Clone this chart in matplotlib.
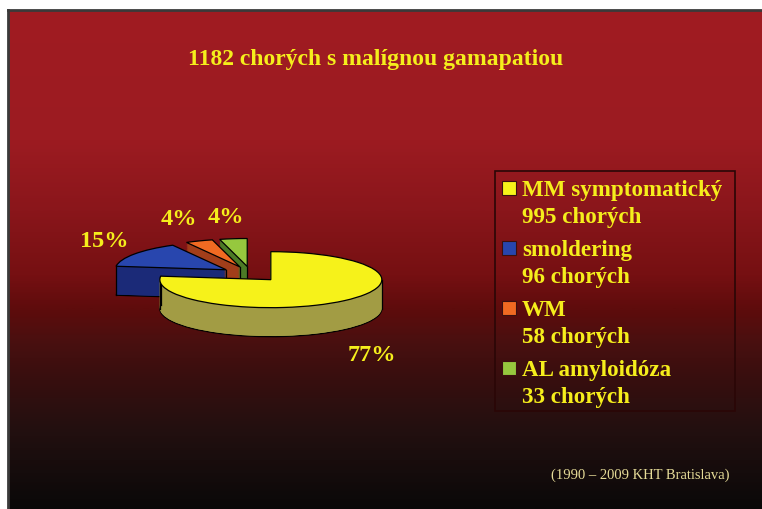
import numpy as np
import matplotlib
matplotlib.use("Agg")
import matplotlib.pyplot as plt
from matplotlib.patches import Rectangle
from matplotlib.colors import LinearSegmentedColormap

# ---------------- data ----------------
title = "1182 chorých s malígnou gamapatiou"
categories = ["MM symptomatický", "smoldering", "WM", "AL amyloidóza"]
patients = [995, 96, 58, 33]
percent = [77, 15, 4, 4]
pct_labels = ["77%", "15%", "4%", "4%"]
footnote = "(1990 – 2009 KHT Bratislava)"

top_colors = ["#F6F21A", "#2846AE", "#F06A22", "#96C83E"]
side_colors = ["#A29C44", "#1B2A78", "#A23E1A", "#4C7A26"]

W, H = 762, 510
fig = plt.figure(figsize=(W / 100, H / 100), dpi=100, facecolor="white")

# ---------------- background ----------------
bg = fig.add_axes([0, 0, 1, 1])
bg.set_xlim(0, W)
bg.set_ylim(H, 0)
bg.axis("off")
stops = [(0.0, "#A01C22"), (0.26, "#9C1B21"), (0.40, "#8A161B"), (0.53, "#761012"),
         (0.60, "#5E0C0C"), (0.67, "#481010"), (0.73, "#3A0E0E"), (0.83, "#251010"),
         (0.93, "#150C0C"), (1.0, "#0A0808")]
cmap = LinearSegmentedColormap.from_list("bg", stops)
grad = np.linspace(0, 1, 600).reshape(-1, 1)
bg.imshow(grad, cmap=cmap, aspect="auto", extent=(8, W, H, 11), zorder=0)
bg.plot([8, 8], [11, H], color="#3a3a3a", lw=2, zorder=1)
bg.plot([8, W], [11, 11], color="#3a3a3a", lw=2, zorder=1)

serif = ["Liberation Serif", "DejaVu Serif"]
yellow = "#F5EE1C"

bg.text(376, 60, title, ha="center", va="center", fontsize=17, fontweight="bold",
        color=yellow, family=serif)
bg.text(640, 475, footnote, ha="center", va="center", fontsize=10.5,
        color="#E6DC98", family=serif)

# percentage labels
label_pos = [(372, 356), (104, 242), (179, 220), (226, 218)]
for (lx, ly), t in zip(label_pos, pct_labels):
    bg.text(lx, ly, t, ha="center", va="center", fontsize=17.5, fontweight="bold",
            color=yellow, family=serif)

# legend (manual)
bg.add_patch(Rectangle((495, 172), 240, 240, fill=False, edgecolor="#2a0606", lw=1.2, zorder=2))
for i, (name, n, c) in enumerate(zip(categories, patients, top_colors)):
    base = 196 + 60 * i
    bg.add_patch(Rectangle((502, base - 14), 14, 14, facecolor=c, edgecolor="#3a1010",
                           lw=0.8, zorder=3))
    bg.text(522, base, name, ha="left", va="baseline", fontsize=16.6, fontweight="bold",
            color=yellow, family=serif)
    bg.text(522, base + 27, f"{n} chorých", ha="left", va="baseline", fontsize=16.6,
            fontweight="bold", color=yellow, family=serif)

# ---------------- 3D-looking pie ----------------
cx, cy = 251, 275      # pixel centre
rx, ry = 111, 28       # ellipse semi-axes in pixels
depth = 29             # pixel thickness
px0, px1, py0, py1 = 40, 480, 170, 420
pax = fig.add_axes([px0 / W, 1 - py1 / H, (px1 - px0) / W, (py1 - py0) / H])
pax.patch.set_alpha(0)
explode = [0.27] * len(percent)
d = depth / ry

layers = np.linspace(d, 0, 45)
for j, k in enumerate(layers):
    pax.pie(percent, explode=explode, colors=side_colors, startangle=90,
            counterclock=False, center=(0, -k), radius=1,
            wedgeprops=dict(linewidth=0.9 if j == 0 else 0, edgecolor="black", zorder=1))

tops, _ = pax.pie(percent, explode=explode, colors=top_colors, startangle=90,
                  counterclock=False, center=(0, 0), radius=1,
                  wedgeprops=dict(linewidth=0.9, edgecolor="black", zorder=3))

# vertical side edges (front-facing rim points, extremes and wedge apex)
for w in tops:
    x0, y0 = w.center
    t1, t2 = w.theta1, w.theta2
    angs = [t1, t2]
    for a in (0, 180, -180, 360):
        if t1 <= a <= t2:
            angs.append(a)
    pts = [(x0, y0)] if (t2 - t1) < 180 else []
    for a in angs:
        s = np.sin(np.radians(a))
        if s <= 0.15:
            pts.append((x0 + np.cos(np.radians(a)), y0 + s))
    for (x, y) in pts:
        pax.plot([x, x], [y, y - d], color="black", lw=0.9, zorder=2)

pax.set_xlim((px0 - cx) / rx, (px1 - cx) / rx)
pax.set_ylim((cy - py1) / ry, (cy - py0) / ry)
pax.set_aspect("auto")
pax.axis("off")

fig.savefig("out.png", dpi=100, facecolor="white")
